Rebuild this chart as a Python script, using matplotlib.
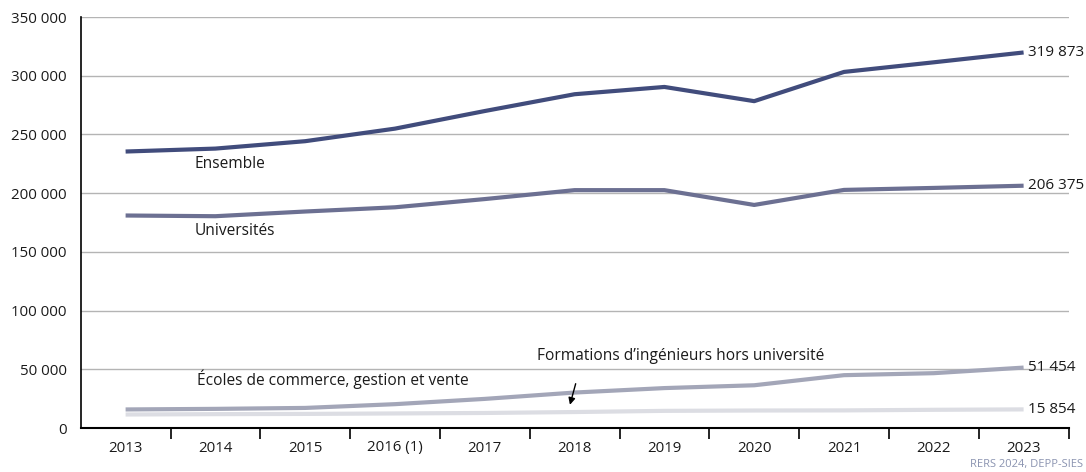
import matplotlib
matplotlib.use("Agg")
import matplotlib.pyplot as plt

years = ["2013", "2014", "2015", "2016 (1)", "2017", "2018", "2019", "2020", "2021", "2022", "2023"]
ensemble = [235500, 238000, 244300, 255000, 270000, 284300, 290500, 278400, 303300, 311500, 319873]
universites = [181000, 180400, 184400, 188000, 195000, 202600, 202600, 190000, 202800, 204500, 206375]
ecoles = [15800, 16300, 17100, 20300, 24800, 30200, 34000, 36400, 45000, 46700, 51454]
ingenieurs = [11500, 11800, 12000, 12400, 12800, 13600, 14600, 14900, 15000, 15500, 15854]
yticks = [0, 50000, 100000, 150000, 200000, 250000, 300000, 350000]

plt.rcParams['font.family'] = ['Open Sans', 'DejaVu Sans']

fig = plt.figure(figsize=(10.86, 4.72), dpi=100)
ax = fig.add_axes([80.7/1086, 44/472, (1068.5-80.7)/1086, (428.8-17.9)/472])

x = list(range(len(years)))
series = [
    (ingenieurs, "#dcdde3"),
    (ecoles, "#a3a6b8"),
    (universites, "#6c7092"),
    (ensemble, "#414c7c"),
]
for vals, col in series:
    ax.plot(x, vals, color=col, lw=3, solid_capstyle="butt", zorder=3)
    ax.annotate(f"{vals[-1]:,}".replace(",", " "), xy=(x[-1], vals[-1]),
                xytext=(3, 0), textcoords="offset points", va="center", ha="left",
                fontsize=11, color="#1a1a1a", zorder=4)

ax.set_xlim(-0.5, 10.5)
ax.set_ylim(0, 350000)
ax.set_yticks(yticks)
ax.set_yticklabels([f"{v:,}".replace(",", " ") for v in yticks], fontsize=10.8, color="#1a1a1a")
ax.tick_params(axis="y", length=0, pad=10)
ax.set_xticks(x)
ax.set_xticklabels(years, fontsize=10.8, color="#1a1a1a")
ax.tick_params(axis="x", which="major", length=0, pad=9)
ax.set_xticks([i + 0.5 for i in range(len(years))], minor=True)
ax.tick_params(axis="x", which="minor", length=8, width=1.2, color="black", direction="out")
ax.grid(axis="y", color="#b4b4b4", lw=1, zorder=0)
ax.set_axisbelow(True)
for s in ["top", "right"]:
    ax.spines[s].set_visible(False)
ax.spines["left"].set_color("black")
ax.spines["left"].set_linewidth(1.2)
ax.spines["bottom"].set_color("black")
ax.spines["bottom"].set_linewidth(1.5)
ax.spines["bottom"].set_zorder(5)

ax.text(0.77, 224700, "Ensemble", fontsize=11.2, color="#1a1a1a", va="center")
ax.text(0.77, 167600, "Universités", fontsize=11.2, color="#1a1a1a", va="center")
ax.text(0.80, 41600, "Écoles de commerce, gestion et vente", fontsize=11.2, color="#1a1a1a", va="center")
ax.text(4.58, 61200, "Formations d’ingénieurs hors université", fontsize=11.2, color="#1a1a1a", va="center")
ax.annotate("", xy=(4.94, 17500), xytext=(5.02, 40000),
            arrowprops=dict(arrowstyle="-|>", color="black", lw=1, mutation_scale=10))

fig.text(1083/1086, 1 - 465/472, "RERS 2024, DEPP-SIES", fontsize=8, color="#8a93b0",
         va="center", ha="right")

fig.savefig("out.png", dpi=100)
